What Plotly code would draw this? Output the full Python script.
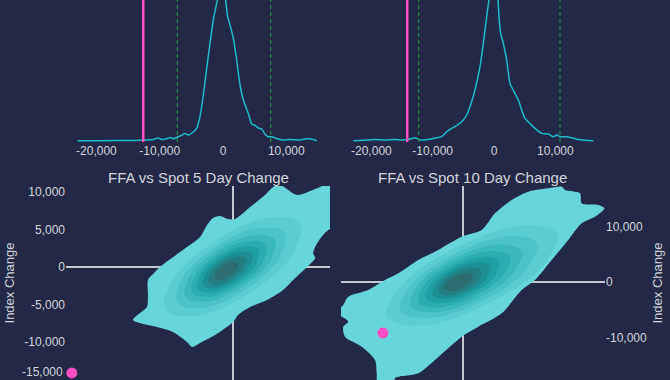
import plotly.graph_objects as go

# ---------------- data ----------------
# Distribution of 5-day change (top left), density in units of 1e-5
KDE5_X = [-22964, -19435, -14168, -12061, -11008, -10218, -9691, -8901, -8375, -7848,
          -7058, -6531, -6004, -5478, -4688, -4161, -3634, -3107, -2581, -2054,
          -1527, -1001, -369, 316, 737, 1106, 1633, 2159, 2686, 3213,
          4003, 4530, 5056, 5583, 6110, 6636, 7163, 7690, 8480, 9533,
          10587, 12167, 13220, 14010, 14800]
KDE5_Y = [0, 0, 0.03, 0.07, 0.13, 0.27, 0.13, 0.2, 0.33, 0.2,
          0.4, 0.53, 0.73, 0.57, 0.87, 1.23, 2.4, 4.57, 7.23, 9.73,
          12.07, 13.73, 15.4, 14.4, 12.4, 11.57, 10.23, 8.07, 5.57, 4.07,
          2.73, 1.67, 1.53, 1.27, 1.17, 0.67, 0.4, 0.4, 0.23, 0.07,
          0.13, 0.07, 0.2, 0.17, 0]
# Distribution of 10-day change (top right)
KDE10_X = [-22944, -20497, -19410, -17779, -16148, -15060, -13701, -12886, -12070, -10711,
           -9623, -8536, -7721, -6905, -5818, -5002, -4458, -3915, -3099, -2284,
           -1740, -1196, -816, -109, 598, 816, 1087, 1522, 2066, 2610,
           3425, 3969, 4513, 5056, 5872, 6688, 7775, 8862, 9678, 10222,
           10765, 11581, 12668, 13755, 16202]
KDE10_Y = [0, 0.07, 0.13, 0.07, 0.13, 0.07, 0.17, 0.3, 0.07, 0.13,
           0.27, 0.4, 0.9, 1.23, 1.63, 2.07, 2.57, 3.4, 5.07, 7.4,
           9.73, 12.4, 14.07, 15.73, 14.4, 12.4, 10.73, 9.73, 8.07, 5.73,
           4.73, 4.07, 3.07, 2.23, 1.73, 1.23, 0.73, 0.67, 0.4, 0.57,
           0.4, 0.4, 0.3, 0.13, 0]

# current value (pink) and percentile bands (green dashed)
CUR5 = -12600
BAND5 = [-7216, 7532]
CUR10 = -14150
BAND10 = [-12290, 10765]

# current point in the scatter panels
PT5_X, PT5_Y = [-12640], [-14130]
PT10_X, PT10_Y = [-14420], [-9190]

# density contour regions, outer boundary (5 day)
C5_OUTER_X = [-7850, -7300, -6751, -6673, -6673, -6123, -5731, -4161, -2591, -2041,
              -1570, -1021, -393, 157, 1335, 2512, 3140, 3690, 5024, 6437,
              7458, 8400, 8400, 7615, 6987, 6516, 6280, 6437, 6202, 4710,
              3925, 2669, 1335, 393, 0, -1413, -2591, -3219, -3611, -4710,
              -5966, -7300]
C5_OUTER_Y = [-7067, -6133, -5333, -3733, -1733, -667, 0, 2000, 4000, 5600,
              6533, 6800, 6400, 6400, 8000, 9600, 10667, 10933, 9600, 10400,
              11067, 11067, 5200, 5067, 4133, 2933, 1867, 1200, 667, -1733,
              -3067, -4400, -5333, -6400, -7333, -9067, -10133, -10667, -10000, -8667,
              -8000, -7467]
# inner density levels (5 day), outer -> inner
C5_LEVELS_X = [
    [5267, 4645, 1290, -2833, -5309, -4687, -1332, 2791],
    [4077, 3616, 947, -2366, -4383, -3922, -1253, 2060],
    [3283, 2915, 711, -2039, -3723, -3355, -1151, 1599],
    [2622, 2323, 497, -1789, -3194, -2895, -1069, 1217],
    [2028, 1795, 304, -1571, -2732, -2499, -1008, 867],
    [1499, 1311, 111, -1399, -2335, -2147, -947, 563],
    [970, 828, -82, -1228, -1938, -1796, -886, 260],
    [375, 284, -296, -1024, -1475, -1384, -804, -76],
]
C5_LEVELS_Y = [
    [5794, 1647, -3439, -6487, -5710, -1563, 3523, 6571],
    [4500, 1087, -3022, -5421, -4704, -1291, 2818, 5217],
    [3637, 774, -2645, -4616, -3985, -1122, 2297, 4268],
    [2919, 523, -2323, -3951, -3409, -1013, 1833, 3461],
    [2271, 282, -2058, -3378, -2905, -916, 1424, 2744],
    [1696, 92, -1793, -2856, -2474, -870, 1015, 2078],
    [1121, -96, -1528, -2334, -2043, -826, 606, 1412],
    [474, -298, -1207, -1722, -1540, -768, 141, 656],
]

# density contour regions, outer boundary (10 day)
C10_OUTER_X = [-21858, -20669, -17065, -14056, -11659, -8055, -5046, -234, 3370, 5766,
               8776, 11767, 15371, 17785, 18380, 21083, 21390, 24381, 25463, 23786,
               21390, 18975, 15984, 12974, 10578, 6974, 2757, -234, -5046, -8055,
               -12254, -12254, -15317, -15551, -15858, -18254, -21264, -21570, -20669, -21858,
               -23246, -23246]
C10_OUTER_Y = [-4451, -2649, -1442, 360, 1568, 3964, 5460, 8163, 9370, 12380,
               14776, 16272, 16885, 17173, 16578, 15984, 14182, 13875, 13281, 11767,
               10578, 7568, 3964, 360, -1442, -5640, -8055, -9857, -14056, -16452,
               -17353, -18741, -18741, -16452, -14056, -11659, -9857, -8055, -7154, -6253,
               -6127, -4325]
C10_LEVELS_X = [
    [17077, 14370, 4244, -7368, -13665, -10958, -832, 10780],
    [13356, 11268, 3200, -6122, -11238, -9150, -1082, 8240],
    [10605, 8956, 2397, -5230, -9459, -7810, -1251, 6376],
    [8502, 7178, 1796, -4492, -8002, -6678, -1296, 4992],
    [6560, 5514, 1195, -3868, -6708, -5662, -1343, 3720],
    [4942, 4154, 795, -3168, -5414, -4626, -1267, 2696],
    [3324, 2748, 234, -2744, -4442, -3866, -1352, 1626],
    [1868, 1474, -206, -2188, -3310, -2916, -1236, 746],
]
C10_LEVELS_Y = [
    [8724, 2856, -3988, -7798, -6344, -476, 6368, 10178],
    [6899, 2045, -3497, -6479, -5155, -301, 5241, 8223],
    [5551, 1480, -3087, -5474, -4283, -212, 4355, 6742],
    [4520, 1105, -2679, -4615, -3568, -153, 3631, 5567],
    [3568, 785, -2272, -3813, -2934, -151, 2906, 4447],
    [2776, 546, -1865, -3044, -2300, -70, 2341, 3520],
    [1982, 281, -1539, -2411, -1824, -123, 1697, 2569],
    [1269, 153, -1052, -1641, -1269, -153, 1052, 1641],
]

TOP_TICKVALS = [-20000, -10000, 0, 10000]
TOP_TICKTEXT = ["-20,000", "-10,000", "0", "10,000"]
Y5_TICKVALS = [10000, 5000, 0, -5000, -10000]
Y5_TICKTEXT = ["10,000", "5,000", "0", "-5,000", "-10,000"]
Y5_EDGE_LABEL = "-15,000"   # lowest tick, sits on the bottom edge
Y10_TICKVALS = [10000, 0, -10000]
Y10_TICKTEXT = ["10,000", "0", "-10,000"]
TITLES = ["FFA vs Spot 5 Day Change", "FFA vs Spot 10 Day Change"]
YTITLE = "Index Change"

# ---------------- styles ----------------
BG = "#222846"
TXT = "#d4d6dc"
CURVE = "#1cbccb"
PINK = "#ff4fc4"
GREEN = "#2a8a4a"
FILLS = ["#66d6da", "#5acdd1", "#4bc3c7", "#3bb8bc", "#2aacb0",
         "#1e9fa3", "#1d8f93", "#247e81", "#2d6c6f"]
FONT = "Liberation Sans, Arial, sans-serif"

fig = go.Figure()

fig.add_trace(go.Scatter(x=KDE5_X, y=KDE5_Y, mode="lines", xaxis="x", yaxis="y",
                         line=dict(color=CURVE, width=1.5, shape="spline", smoothing=0.6),
                         hoverinfo="skip", showlegend=False))
fig.add_trace(go.Scatter(x=KDE10_X, y=KDE10_Y, mode="lines", xaxis="x2", yaxis="y2",
                         line=dict(color=CURVE, width=1.5, shape="spline", smoothing=0.6),
                         hoverinfo="skip", showlegend=False))


def add_density(ox, oy, lx, ly, xa, ya):
    fig.add_trace(go.Scatter(x=ox + ox[:1], y=oy + oy[:1], mode="lines", fill="toself",
                             fillcolor=FILLS[0], line=dict(width=0, shape="spline", smoothing=0.8),
                             xaxis=xa, yaxis=ya, hoverinfo="skip", showlegend=False))
    for i, (px, py) in enumerate(zip(lx, ly)):
        fig.add_trace(go.Scatter(x=px + px[:2], y=py + py[:2], mode="lines", fill="toself",
                                 fillcolor=FILLS[i + 1],
                                 line=dict(width=0, shape="spline", smoothing=1.1),
                                 xaxis=xa, yaxis=ya, hoverinfo="skip", showlegend=False))


add_density(C5_OUTER_X, C5_OUTER_Y, C5_LEVELS_X, C5_LEVELS_Y, "x3", "y3")
add_density(C10_OUTER_X, C10_OUTER_Y, C10_LEVELS_X, C10_LEVELS_Y, "x4", "y4")

fig.add_trace(go.Scatter(x=PT5_X, y=PT5_Y, mode="markers", xaxis="x3", yaxis="y3",
                         marker=dict(color=PINK, size=11), cliponaxis=False,
                         hoverinfo="skip", showlegend=False))
fig.add_trace(go.Scatter(x=PT10_X, y=PT10_Y, mode="markers", xaxis="x4", yaxis="y4",
                         marker=dict(color=PINK, size=11), cliponaxis=False,
                         hoverinfo="skip", showlegend=False))

shapes = []
for xr, yr, cur, band in [("x", "y", CUR5, BAND5), ("x2", "y2", CUR10, BAND10)]:
    for b in band:
        shapes.append(dict(type="line", xref=xr, yref=yr + " domain", x0=b, x1=b, y0=0, y1=1,
                           line=dict(color=GREEN, width=1.2, dash="4px,3px")))
    shapes.append(dict(type="line", xref=xr, yref=yr + " domain", x0=cur, x1=cur, y0=0, y1=1,
                       line=dict(color=PINK, width=2.5)))

LX = [0, 0.4898]
RX = [0.5102, 1]
TOPY = [0.6263, 1]
BOTY = [0, 0.5105]

tick_font = dict(family=FONT, size=12, color=TXT)
top_x = dict(showgrid=False, zeroline=False, showline=False, ticks="",
             tickvals=TOP_TICKVALS, ticktext=TOP_TICKTEXT, tickfont=tick_font)
top_y = dict(visible=False, range=[-0.13, 14.07])
bot_x = dict(showgrid=False, zeroline=True, zerolinecolor="rgba(255,255,255,0.75)",
             zerolinewidth=1.5, showticklabels=False, ticks="", layer="above traces")
bot_y = dict(showgrid=False, zeroline=True, zerolinecolor="rgba(255,255,255,0.75)",
             zerolinewidth=1.5, ticks="", tickfont=tick_font, layer="above traces",
             title=dict(text=YTITLE, standoff=6, font=dict(family=FONT, size=13, color=TXT)))

fig.update_layout(
    width=670, height=380,
    margin=dict(l=66, r=65, t=0, b=0),
    paper_bgcolor=BG, plot_bgcolor=BG,
    font=dict(family=FONT, color=TXT),
    showlegend=False,
    xaxis=dict(top_x, domain=LX, range=[-24806, 16906], anchor="y"),
    yaxis=dict(top_y, domain=TOPY, anchor="x"),
    xaxis2=dict(top_x, domain=RX, range=[-24954, 18104], anchor="y2"),
    yaxis2=dict(top_y, domain=TOPY, anchor="x2"),
    xaxis3=dict(bot_x, domain=LX, range=[-13100, 7600], anchor="y3"),
    yaxis3=dict(bot_y, domain=BOTY, range=[-15067, 10800], anchor="x3",
                tickvals=Y5_TICKVALS, ticktext=Y5_TICKTEXT),
    xaxis4=dict(bot_x, domain=RX, range=[-21980, 25590], anchor="y4"),
    yaxis4=dict(bot_y, domain=BOTY, range=[-17660, 17300], anchor="x4", side="right",
                tickvals=Y10_TICKVALS, ticktext=Y10_TICKTEXT),
    shapes=shapes,
    annotations=[
        dict(text=TITLES[0], x=sum(LX) / 2, y=0.534, xref="paper", yref="paper",
             xanchor="center", yanchor="middle", showarrow=False,
             font=dict(family=FONT, size=15, color=TXT)),
        dict(text=TITLES[1], x=sum(RX) / 2, y=0.534, xref="paper", yref="paper",
             xanchor="center", yanchor="middle", showarrow=False,
             font=dict(family=FONT, size=15, color=TXT)),
        dict(text=Y5_EDGE_LABEL, x=0, y=0, xref="paper", yref="paper",
             xanchor="right", yanchor="bottom", xshift=-2, showarrow=False,
             borderpad=0, font=dict(family=FONT, size=12, color=TXT)),
    ],
)

PAGE_JS = (
    "document.body.style.margin='0px';"
    "document.body.style.background='" + BG + "';"
)

fig.write_html("out.html", config={"displayModeBar": False}, post_script=PAGE_JS)
